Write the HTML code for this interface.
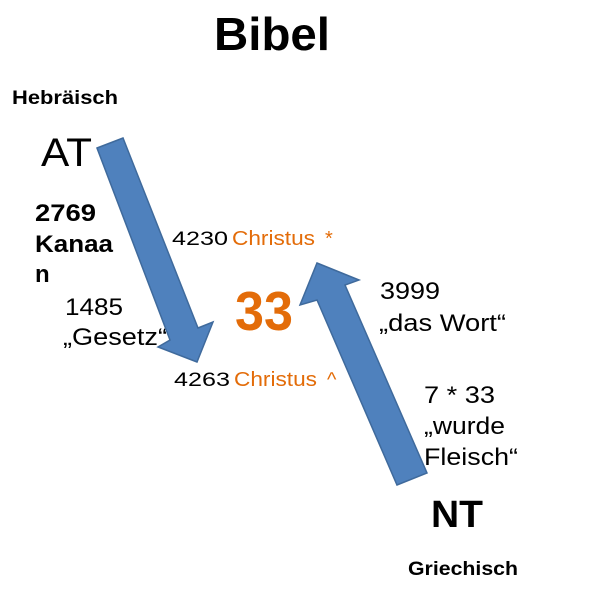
<!DOCTYPE html>
<html><head><meta charset="utf-8"><style>
html,body{margin:0;padding:0;background:#fff;}
svg{display:block;}
text{font-family:"Liberation Sans",Arial,sans-serif;}
</style></head><body>
<svg width="616" height="590" viewBox="0 0 616 590" xmlns="http://www.w3.org/2000/svg">
<rect width="616" height="590" fill="#fff"/>
<text x="214" y="50" font-size="46" font-weight="bold" fill="#000" textLength="116" lengthAdjust="spacingAndGlyphs">Bibel</text>
<text x="12" y="104" font-size="19" font-weight="bold" fill="#000" textLength="106" lengthAdjust="spacingAndGlyphs">Hebräisch</text>
<text x="41" y="166" font-size="40" fill="#000" textLength="51" lengthAdjust="spacingAndGlyphs">AT</text>
<text font-size="24" font-weight="bold" fill="#000"><tspan x="35" y="221" textLength="61" lengthAdjust="spacingAndGlyphs">2769</tspan></text>
<text font-size="24" font-weight="bold" fill="#000"><tspan x="35" y="252" textLength="78" lengthAdjust="spacingAndGlyphs">Kanaa</tspan></text>
<text font-size="24" font-weight="bold" fill="#000"><tspan x="35" y="282">n</tspan></text>
<text font-size="24" fill="#000" x="65" y="315" textLength="58" lengthAdjust="spacingAndGlyphs">1485</text>
<text font-size="24" fill="#000" x="63" y="345" textLength="104" lengthAdjust="spacingAndGlyphs">„Gesetz“</text>
<polygon points="97,148 123,138 198,328 213,322 197,362 158,347 170,340" fill="#4f81bd" stroke="#3f6a9c" stroke-width="1.5"/>
<polygon points="317,263 359,280 345,285 427,473 397,485 317,300 300,305" fill="#4f81bd" stroke="#3f6a9c" stroke-width="1.5"/>
<text x="172" y="245" font-size="19" fill="#000" textLength="56" lengthAdjust="spacingAndGlyphs">4230</text>
<text x="232" y="245" font-size="20" fill="#e36c09" textLength="83" lengthAdjust="spacingAndGlyphs">Christus</text>
<text x="325" y="245" font-size="20" fill="#e36c09">*</text>
<text x="174" y="386" font-size="19" fill="#000" textLength="56" lengthAdjust="spacingAndGlyphs">4263</text>
<text x="234" y="386" font-size="20" fill="#e36c09" textLength="83" lengthAdjust="spacingAndGlyphs">Christus</text>
<text x="327" y="386" font-size="20" fill="#e36c09">^</text>
<text x="235" y="330" font-size="55" font-weight="bold" fill="#e36c09" textLength="58" lengthAdjust="spacingAndGlyphs">33</text>
<text font-size="24" fill="#000" x="380" y="299" textLength="60" lengthAdjust="spacingAndGlyphs">3999</text>
<text font-size="24" fill="#000" x="379" y="331" textLength="127" lengthAdjust="spacingAndGlyphs">„das Wort“</text>
<text font-size="24" fill="#000" x="424" y="403" textLength="71" lengthAdjust="spacingAndGlyphs">7 * 33</text>
<text font-size="24" fill="#000" x="424" y="434" textLength="81" lengthAdjust="spacingAndGlyphs">„wurde</text>
<text font-size="24" fill="#000" x="424" y="465" textLength="94" lengthAdjust="spacingAndGlyphs">Fleisch“</text>
<text x="431" y="527" font-size="38" font-weight="bold" fill="#000" textLength="52" lengthAdjust="spacingAndGlyphs">NT</text>
<text x="408" y="575" font-size="19" font-weight="bold" fill="#000" textLength="110" lengthAdjust="spacingAndGlyphs">Griechisch</text>
</svg>
</body></html>
